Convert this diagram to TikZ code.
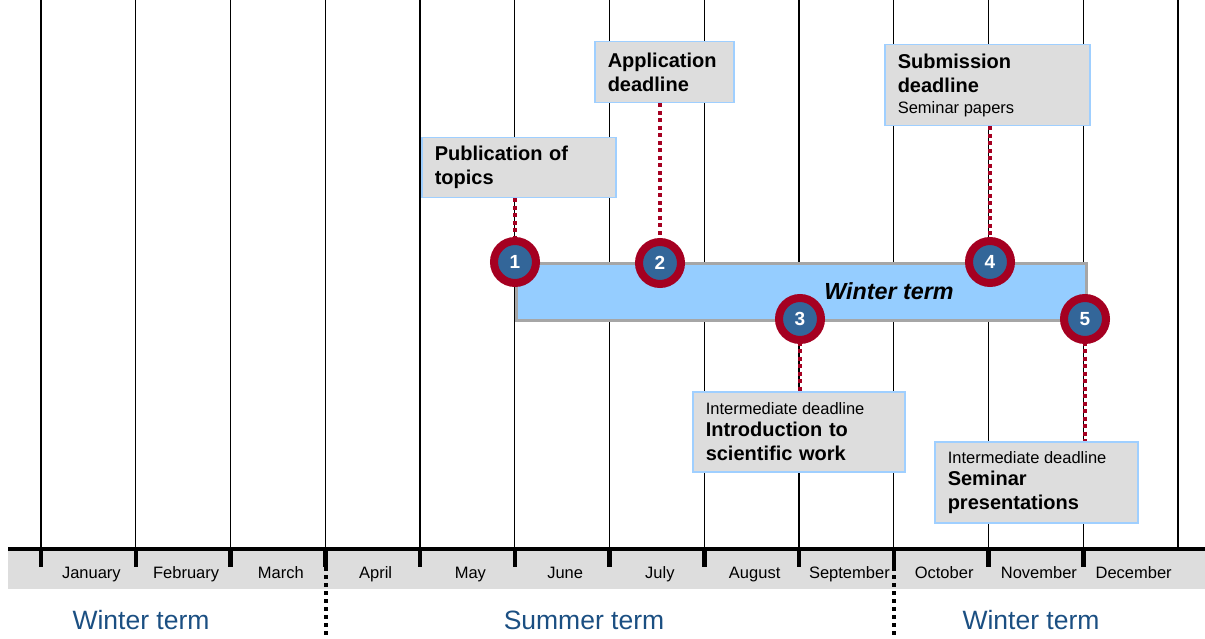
\documentclass[tikz,border=0pt]{standalone}
\usepackage{fontspec}
\setmainfont{Liberation Sans}
\definecolor{dred}{HTML}{A50021}
\definecolor{cblue}{HTML}{336699}
\definecolor{barfill}{HTML}{95CDFF}
\definecolor{barline}{HTML}{A6A6A6}
\definecolor{boxfill}{HTML}{DDDDDD}
\definecolor{boxline}{HTML}{9FCFFF}
\definecolor{termblue}{HTML}{1B4F82}
\tikzset{
  grid line/.style={line width=1.3pt, black},
  infobox/.style={draw=boxline, line width=1.5pt, fill=boxfill, anchor=north west, align=left, inner xsep=13pt, inner ysep=0pt, font=\fontsize{20}{24}\selectfont\bfseries},
  reddots/.style={dred, line width=4pt, dash pattern=on 4pt off 3.5pt},
  blackdots/.style={black, line width=4pt, dash pattern=on 4pt off 4pt},
  milestone/.style={circle, fill=cblue, draw=dred, line width=8pt, minimum size=42pt, inner sep=0pt, text=white, font=\fontsize{19}{22}\selectfont\bfseries},
  month/.style={font=\fontsize{16.5}{18}\selectfont, anchor=base},
  term/.style={font=\fontsize{26.5}{30}\selectfont, text=termblue, anchor=base},
}
\newcommand{\smalltxt}[1]{{\fontsize{16.5}{19}\selectfont\mdseries\spaceskip=0pt\xspaceskip=0pt\mbox{#1}}}
\begin{document}
\begin{tikzpicture}[x=1pt,y=-1pt]
\useasboundingbox (0,0) rectangle (1205,639);
% gray band
\fill[boxfill] (8,551) rectangle (1205,589);
% grid lines
\foreach \i in {0,...,12}{
  \draw[grid line] ({41+94.75*\i},0) -- ({41+94.75*\i},549);
}
% axis
\draw[line width=4.5pt] (8,549) -- (1205,549);
\foreach \i in {0,...,11}{
  \draw[line width=4.5pt] ({41+94.75*\i},549) -- ({41+94.75*\i},567);
}
% months
\foreach \m [count=\i from 0] in {January,February,March,April,May,June,July,August,September,October,November,December}{
  \node[month] (m\i) at ({41+94.75*\i+47.4+3},578) {\m};
}
% term separators
\coordinate (s1a) at (326,567); \coordinate (s1b) at (326,639);
\coordinate (s2a) at (894,567); \coordinate (s2b) at (894,639);
\draw[blackdots] (s1a) -- (s1b);
\draw[blackdots] (s2a) -- (s2b);
% term labels
\node[term] (t1) at (141,629) {Winter term};
\node[term] (t2) at (584,629) {Summer term};
\node[term] (t3) at (1031,629) {Winter term};
% bar
\node[draw=barline, line width=3pt, fill=barfill, minimum width=570pt, minimum height=57pt, inner sep=0pt, anchor=north west] (bar) at (515,262) {};
\node[font=\fontsize{23.3}{26}\selectfont\bfseries\itshape] (bartext) at (889,291) {Winter term};
% boxes
\node[infobox, minimum width=194pt, minimum height=60pt, text width=168pt] (b1) at (421,137)
  {Publication of\\topics};
\node[infobox, minimum width=139pt, minimum height=61pt, text width=113pt] (b2) at (594,41)
  {Application\\deadline};
\node[infobox, minimum width=205pt, minimum height=81pt, text width=179pt] (b4) at (884,44)
  {Submission\\deadline\\[-3pt]\smalltxt{Seminar papers}};
\node[infobox, minimum width=212pt, minimum height=80pt, text width=186pt] (b3) at (692,391)
  {\smalltxt{Intermediate deadline}\\[-2pt]Introduction to\\scientific work};
\node[infobox, minimum width=203pt, minimum height=81pt, text width=177pt] (b5) at (934,441)
  {\smalltxt{Intermediate deadline}\\[-2pt]Seminar\\presentations};
% milestones positions
\coordinate (p1) at (515,262);
\coordinate (p2) at (660,263);
\coordinate (p3) at (800,319);
\coordinate (p4) at (990,262);
\coordinate (p5) at (1085,319);
% connectors
\draw[reddots] (p1 |- b1.south) -- (p1);
\draw[reddots] (p2 |- b2.south) -- (p2);
\draw[reddots] (p4 |- b4.south) -- (p4);
\draw[reddots] (p3) -- (p3 |- b3.north);
\draw[reddots] (p5) -- (p5 |- b5.north);
% circles
\node[milestone] (c1) at (p1) {1};
\node[milestone] (c2) at (p2) {2};
\node[milestone] (c3) at (p3) {3};
\node[milestone] (c4) at (p4) {4};
\node[milestone] (c5) at (p5) {5};
\end{tikzpicture}
\end{document}
